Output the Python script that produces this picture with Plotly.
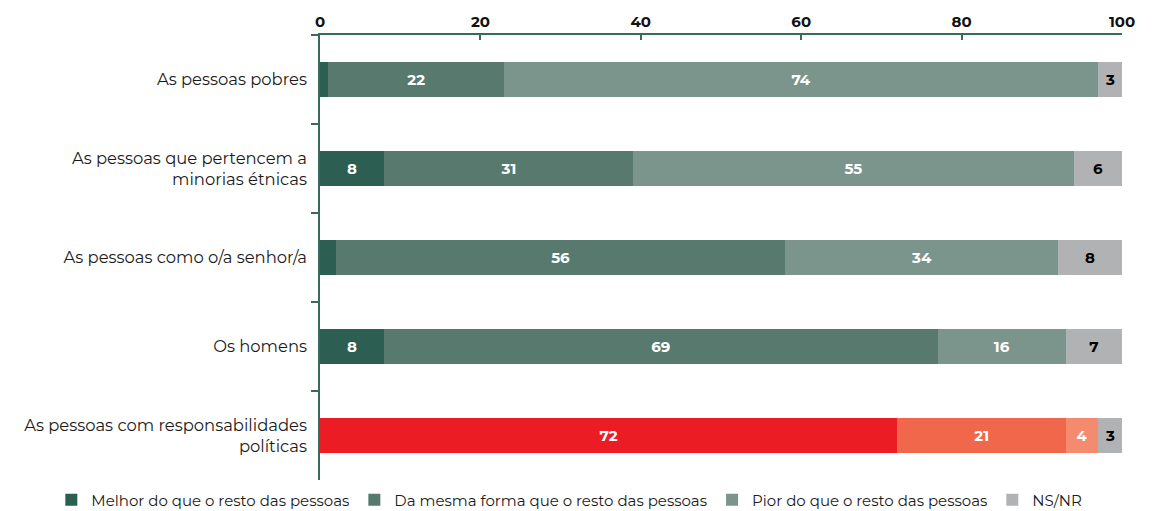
import plotly.graph_objects as go

categories = [
    "As pessoas pobres",
    "As pessoas que pertencem a<br>minorias étnicas",
    "As pessoas como o/a senhor/a",
    "Os homens",
    "As pessoas com responsabilidades<br>políticas",
]

series_names = [
    "Melhor do que o resto das pessoas",
    "Da mesma forma que o resto das pessoas",
    "Pior do que o resto das pessoas",
    "NS/NR",
]

melhor = [1, 8, 2, 8, 72]
mesma = [22, 31, 56, 69, 21]
pior = [74, 55, 34, 16, 4]
nsnr = [3, 6, 8, 7, 3]

# values too small to carry a label
labelled_min = 3

green_palette = ["#2d5e52", "#587a6e", "#7c958c", "#b0b2b4"]
red_palette = ["#ec1c24", "#f1674b", "#f48b6e", "#b0b2b4"]
text_colors = ["white", "white", "white", "black"]

font_family = "Montserrat, 'Open Sans', sans-serif"

fig = go.Figure()
for i, (name, vals) in enumerate(zip(series_names, [melhor, mesma, pior, nsnr])):
    colors = [green_palette[i]] * 4 + [red_palette[i]]
    labels = [str(v) if v >= labelled_min else "" for v in vals]
    fig.add_trace(go.Bar(
        y=categories,
        x=vals,
        name=name,
        orientation="h",
        marker=dict(color=colors, line=dict(width=0)),
        text=labels,
        textposition="inside",
        insidetextanchor="middle",
        textangle=0,
        insidetextfont=dict(family=font_family, size=15,
                            color=text_colors[i], weight="bold"),
        hoverinfo="skip",
    ))

axis_color = "#3a6a5e"

fig.update_layout(
    barmode="stack",
    bargap=0.6,
    width=1165,
    height=511,
    margin=dict(l=320, r=43, t=35, b=31, autoexpand=False),
    paper_bgcolor="white",
    plot_bgcolor="white",
    font=dict(family=font_family, color="#1a1a1a"),
    uniformtext=dict(minsize=15, mode="show"),
    showlegend=True,
    legend=dict(
        orientation="h",
        x=-0.335,
        xanchor="left",
        y=-0.008,
        yanchor="top",
        font=dict(size=15, color="#1a1a1a"),
        itemwidth=30,
        traceorder="normal",
    ),
    xaxis=dict(
        side="top",
        range=[0, 100],
        tickvals=[0, 20, 40, 60, 80, 100],
        ticks="inside",
        ticklen=5,
        tickcolor=axis_color,
        tickwidth=1.5,
        showline=True,
        linecolor=axis_color,
        linewidth=1.5,
        showgrid=False,
        zeroline=False,
        tickfont=dict(size=15, color="#111111", weight="bold"),
        fixedrange=True,
    ),
    yaxis=dict(
        autorange="reversed",
        tickson="boundaries",
        ticks="outside",
        ticklen=7,
        tickcolor=axis_color,
        tickwidth=1.5,
        showline=True,
        linecolor=axis_color,
        linewidth=1.5,
        showgrid=False,
        ticklabelstandoff=8,
        tickfont=dict(size=16.4, color="#1a1a1a"),
        fixedrange=True,
    ),
)

fig.write_html("out.html")
